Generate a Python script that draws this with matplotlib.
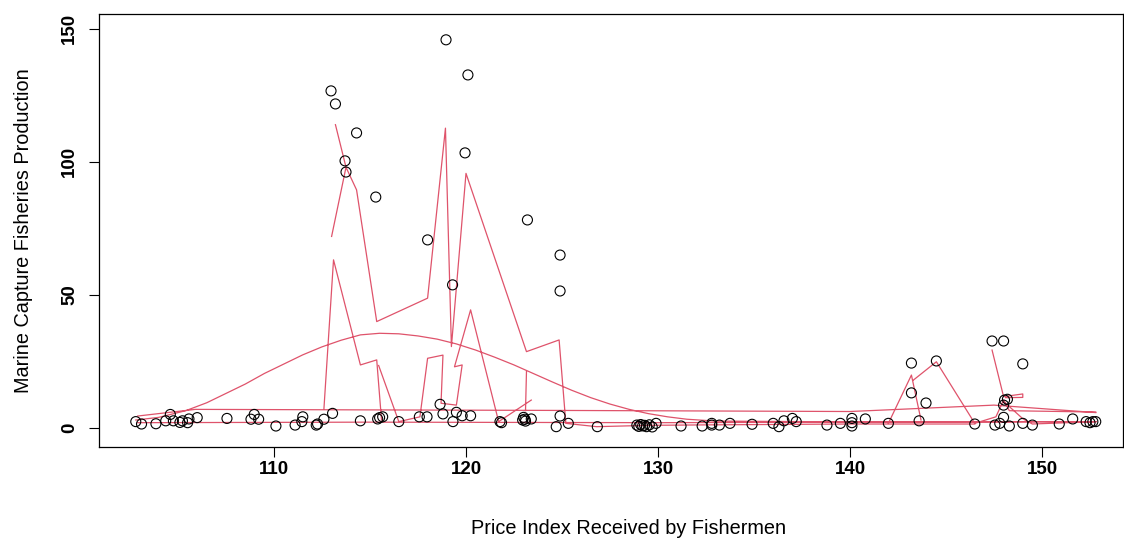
import matplotlib
matplotlib.use("Agg")
import matplotlib.pyplot as plt
import numpy as np

plt.rcParams['font.family'] = ['Liberation Sans', 'DejaVu Sans']

# observed points: price index vs production
price = [112.97, 113.2, 114.3, 113.7, 113.75, 115.3, 118.0, 118.96, 120.1, 119.95,
         119.3, 123.2, 124.9, 124.9, 143.2, 143.2, 143.96, 144.5, 147.4, 148.0,
         149.0, 148.05, 148.0,
         102.8, 103.1, 103.85, 104.36, 104.6, 104.76, 105.1, 105.23, 105.5, 105.57,
         106.0, 107.55, 108.8, 108.97, 109.2, 110.1, 111.1, 111.45, 111.5, 112.27,
         112.2, 112.6, 113.05, 114.5, 115.4, 115.5, 115.66, 116.5, 117.57, 117.97,
         118.65, 118.8, 119.5, 119.32, 119.8, 120.24, 121.77, 121.85, 123.0, 122.95,
         123.07, 123.4, 123.1, 124.9, 124.7, 125.33, 126.84, 128.9, 129.0, 129.1,
         129.2, 129.3, 129.4, 129.55, 129.7, 129.9, 131.2, 132.3, 132.8, 132.8,
         133.2, 133.75, 134.9, 136.0, 136.3, 136.56, 137.0, 137.2, 138.8, 139.5,
         140.1, 140.1, 140.1, 140.8, 142.0, 143.6, 146.5, 147.55, 147.8, 148.0,
         148.2, 148.3, 149.0, 149.5, 150.9, 151.6, 152.3, 152.5, 152.65, 152.8]
production = [126.7, 121.8, 110.9, 100.4, 96.2, 86.8, 70.7, 145.9, 132.7, 103.4,
              53.8, 78.2, 65.0, 51.5, 24.4, 13.2, 9.4, 25.2, 32.7, 32.7,
              24.1, 10.5, 8.6,
              2.4, 1.5, 1.6, 2.7, 5.1, 2.7, 2.1, 2.7, 2.0, 3.4,
              3.9, 3.6, 3.3, 5.1, 3.3, 0.75, 1.1, 2.4, 4.2, 1.5,
              1.1, 3.3, 5.5, 2.7, 3.4, 3.9, 4.2, 2.4, 4.2, 4.2,
              8.9, 5.3, 5.9, 2.4, 4.6, 4.6, 2.4, 2.0, 4.0, 3.0,
              3.3, 3.4, 2.6, 4.5, 0.5, 1.75, 0.5, 1.1, 0.6, 1.3,
              0.8, 1.0, 0.5, 1.2, 0.4, 1.75, 0.75, 0.75, 1.75, 1.1,
              1.1, 1.75, 1.4, 1.75, 0.5, 2.7, 3.6, 2.4, 1.1, 1.75,
              3.6, 2.0, 0.75, 3.4, 1.75, 2.7, 1.5, 1.1, 1.75, 4.0,
              10.8, 0.75, 1.75, 1.1, 1.5, 3.4, 2.4, 2.0, 2.4, 2.4]

# fitted values drawn in data order (nan = break between groups)
nan = np.nan
fit_x = [102.8, 104.0, 105.4, 106.5, 107.5, 108.5, 109.5, 110.5, 111.5, 112.5,
         113.5, 114.5, 115.5, 116.5, 117.5, 118.5, 119.5, 120.5, 121.5, 122.5,
         123.5, 124.5, 125.5, 126.5, 127.5, 128.5, 129.5, 130.5, 131.5, 133.0,
         140.0, 147.0, 152.8, nan,
         102.9, 105.9, 125.0, 140.0, 141.9, 147.5, 152.8, nan,
         102.9, 115.0, 130.0, 145.0, 152.8, nan,
         112.6, 113.1, 114.5, 115.35, 115.6, nan,
         115.45, 116.5, 117.6, 118.0, 118.8, 118.7, 119.5, 119.8, 119.4, 120.24,
         121.7, 123.4, nan,
         123.15, 123.1, nan,
         113.0, 113.75, 114.3, 115.35, 118.0, 118.93, 119.24, 120.0, 123.15, 124.85,
         125.2, 126.8, 129.5, 133.0, 140.0, 146.5, nan,
         113.2, 113.75, nan,
         142.0, 143.2, 143.7, nan,
         143.3, 144.5, 146.5, 147.6, 148.0, 148.3, 152.8, nan,
         147.4, 148.0, 149.0, 149.0, 148.1, nan,
         148.0, 149.0, 149.5, 152.8]
fit_y = [3.0, 4.0, 6.5, 9.5, 13.0, 16.5, 20.5, 24.0, 27.5, 30.5,
         33.0, 35.0, 35.6, 35.4, 34.6, 33.4, 31.6, 29.3, 26.6, 23.7,
         20.5, 17.3, 14.2, 11.4, 9.0, 7.0, 5.4, 4.2, 3.3, 2.6,
         2.3, 2.3, 2.4, nan,
         4.5, 7.0, 6.6, 6.2, 6.8, 8.6, 5.8, nan,
         2.0, 2.2, 2.0, 2.3, 2.4, nan,
         7.2, 63.2, 23.7, 25.6, 3.0, nan,
         23.5, 2.4, 4.2, 26.2, 27.4, 9.3, 8.6, 23.7, 23.0, 44.4,
         2.4, 10.5, nan,
         21.2, 6.5, nan,
         72.0, 98.0, 89.5, 40.0, 48.8, 112.7, 30.6, 95.7, 28.7, 33.1,
         1.75, 0.5, 1.0, 1.2, 1.5, 1.5, nan,
         114.0, 98.0, nan,
         1.75, 19.9, 3.0, nan,
         18.0, 24.9, 1.75, 4.2, 10.5, 6.5, 6.0, nan,
         29.3, 11.8, 12.8, 11.5, 11.4, nan,
         10.0, 3.5, 1.5, 2.4]

fig = plt.figure(figsize=(11.24, 5.38), dpi=100)
ax = fig.add_axes([99/1124, 91/538, 1024/1124, 433/538])

ax.plot(fit_x, fit_y, color="#DF536B", linewidth=0.9)
ax.scatter(price, production, s=52, facecolors="none", edgecolors="black", linewidths=0.8, zorder=3)

ax.set_xlim(100.885, 154.22)
ax.set_ylim(-7.14, 155.6)
ax.set_xticks([110, 120, 130, 140, 150])
ax.set_yticks([0, 50, 100, 150])
ax.set_yticklabels(["0", "50", "100", "150"], rotation=90, va="center")
ax.tick_params(axis="x", length=7, width=0.8, labelsize=13.5, pad=3)
ax.tick_params(axis="y", length=7, width=0.8, labelsize=13.5, pad=8)
for lab in ax.get_xticklabels() + ax.get_yticklabels():
    lab.set_fontweight("bold")
for s in ax.spines.values():
    s.set_linewidth(0.9)

ax.set_xlabel("Price Index Received by Fishermen", fontsize=14.3, labelpad=28)
ax.xaxis.set_label_coords(0.517, -0.167)
ax.set_ylabel("Marine Capture Fisheries Production", fontsize=14.3, labelpad=20)

fig.savefig("out.png", dpi=100)
